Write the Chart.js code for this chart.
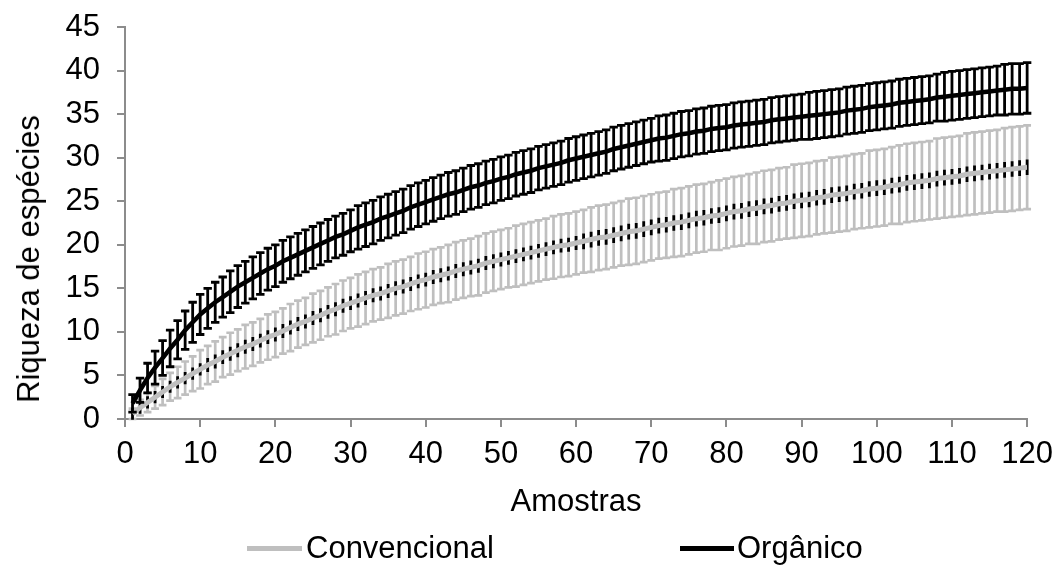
<!DOCTYPE html>
<html>
<head>
<meta charset="utf-8">
<script src="https://cdn.jsdelivr.net/npm/chart.js@4.4.1/dist/chart.umd.min.js"></script>
<style>
  html, body { margin: 0; padding: 0; background: #fff; }
  #wrap { position: relative; width: 1062px; height: 565px; overflow: hidden; }
  canvas { position: absolute; left: 0; top: 0; }
  .lg-line { position: absolute; height: 5px; }
  .lg-text { position: absolute; font-family: 'Liberation Sans', Arial, sans-serif; font-size: 31px; line-height: 36px; color: #000; white-space: nowrap; }
  #ytitle { position: absolute; left: 29px; top: 259px; transform: translate(-50%, -50%) rotate(-90deg); }
</style>
</head>
<body>
<div id="wrap">
  <canvas id="c" width="1062" height="565"></canvas>
  <div id="ytitle" class="lg-text"></div>
  <div class="lg-line" style="left:247px; top:546px; width:55px; background:#bfbfbf;"></div>
  <div class="lg-text" style="left:306px; top:530px;">Convencional</div>
  <div class="lg-line" style="left:680px; top:546px; width:54px; background:#000;"></div>
  <div class="lg-text" style="left:737px; top:530px;">Orgânico</div>
</div>
<script>
// ---- DATA ----
const samples = [1,2,3,4,5,6,7,8,9,10,11,12,13,14,15,16,17,18,19,20,
  21,22,23,24,25,26,27,28,29,30,31,32,33,34,35,36,37,38,39,40,
  41,42,43,44,45,46,47,48,49,50,51,52,53,54,55,56,57,58,59,60,
  61,62,63,64,65,66,67,68,69,70,71,72,73,74,75,76,77,78,79,80,
  81,82,83,84,85,86,87,88,89,90,91,92,93,94,95,96,97,98,99,100,
  101,102,103,104,105,106,107,108,109,110,111,112,113,114,115,116,117,118,119,120];

const seriesNames = ['Convencional', 'Orgânico'];

const convMean = [0.6,1.3,1.9,2.5,3.1,3.7,4.2,4.7,5.2,5.7,
  6.2,6.6,7.1,7.5,7.9,8.3,8.6,9.0,9.4,9.7,
  10.1,10.5,10.9,11.2,11.6,11.9,12.3,12.6,13.0,13.3,
  13.6,13.9,14.2,14.4,14.7,15.0,15.2,15.5,15.8,16.0,
  16.3,16.5,16.7,17.0,17.2,17.4,17.6,17.9,18.1,18.3,
  18.5,18.7,18.9,19.1,19.3,19.5,19.7,19.9,20.0,20.2,
  20.4,20.6,20.8,20.9,21.1,21.3,21.5,21.6,21.8,22.0,
  22.2,22.3,22.5,22.6,22.8,23.0,23.1,23.3,23.4,23.6,
  23.8,23.9,24.1,24.2,24.4,24.5,24.7,24.8,25.0,25.1,
  25.2,25.4,25.5,25.7,25.8,25.9,26.1,26.2,26.4,26.5,
  26.6,26.8,26.9,27.1,27.2,27.3,27.4,27.6,27.7,27.8,
  27.9,28.1,28.2,28.3,28.4,28.5,28.6,28.7,28.8,28.9];

const convErr = [0.6,0.9,1.1,1.3,1.5,1.6,1.8,1.9,2.0,2.2,
  2.2,2.3,2.3,2.4,2.4,2.5,2.5,2.5,2.6,2.6,
  2.6,2.7,2.7,2.7,2.8,2.8,2.8,2.9,2.9,2.9,
  3.0,3.0,3.0,3.0,3.1,3.1,3.1,3.1,3.2,3.2,
  3.2,3.2,3.3,3.3,3.3,3.3,3.4,3.4,3.4,3.4,
  3.4,3.5,3.5,3.5,3.5,3.5,3.6,3.6,3.6,3.6,
  3.6,3.7,3.7,3.7,3.7,3.7,3.8,3.8,3.8,3.8,
  3.8,3.8,3.9,3.9,3.9,3.9,3.9,3.9,4.0,4.0,
  4.0,4.0,4.0,4.1,4.1,4.1,4.1,4.1,4.2,4.2,
  4.2,4.2,4.2,4.3,4.3,4.3,4.3,4.3,4.4,4.4,
  4.4,4.4,4.5,4.5,4.5,4.5,4.5,4.6,4.6,4.6,
  4.6,4.7,4.7,4.7,4.7,4.7,4.8,4.8,4.8,4.8];

const convInnerErr = [0.7,0.7,0.7,0.7,0.7,0.7,0.7,0.7,0.7,0.7,
  0.8,0.8,0.8,0.8,0.8,0.8,0.8,0.8,0.8,0.8,
  0.8,0.8,0.8,0.8,0.8,0.8,0.8,0.8,0.8,0.8,
  0.8,0.8,0.8,0.8,0.8,0.8,0.8,0.8,0.8,0.8,
  0.8,0.8,0.8,0.8,0.8,0.8,0.8,0.8,0.8,0.8,
  0.8,0.8,0.8,0.8,0.8,0.8,0.8,0.8,0.8,0.8,
  0.9,0.9,0.9,0.9,0.9,0.9,0.9,0.9,0.9,0.9,
  0.9,0.9,0.9,0.9,0.9,0.9,0.9,0.9,0.9,0.9,
  0.9,0.9,0.9,0.9,0.9,0.9,0.9,0.9,0.9,0.9,
  0.9,0.9,0.9,0.9,0.9,0.9,0.9,0.9,0.9,0.9,
  0.9,0.9,0.9,0.9,0.9,0.9,0.9,0.9,0.9,0.9,
  0.9,0.9,0.9,0.9,0.9,0.9,0.9,0.9,0.9,0.9];

const orgMean = [1.8,3.3,4.7,5.9,7.0,8.1,9.1,10.2,11.1,12.0,
  12.7,13.4,14.0,14.6,15.2,15.7,16.2,16.7,17.2,17.6,
  18.1,18.5,18.9,19.3,19.7,20.1,20.5,20.9,21.2,21.6,
  22.0,22.3,22.6,23.0,23.3,23.6,23.9,24.3,24.6,24.9,
  25.2,25.5,25.8,26.0,26.3,26.6,26.8,27.1,27.3,27.6,
  27.8,28.1,28.3,28.5,28.8,29.0,29.2,29.4,29.7,29.9,
  30.1,30.3,30.5,30.7,31.0,31.2,31.4,31.6,31.8,32.0,
  32.2,32.3,32.5,32.7,32.8,33.0,33.1,33.3,33.4,33.5,
  33.7,33.8,33.9,34.0,34.1,34.3,34.4,34.5,34.6,34.7,
  34.8,34.9,35.0,35.1,35.2,35.4,35.5,35.6,35.8,35.9,
  36.0,36.1,36.3,36.4,36.5,36.6,36.7,36.9,37.0,37.1,
  37.2,37.3,37.4,37.5,37.6,37.7,37.8,37.9,37.9,38.0];

const orgErr = [1.0,1.4,1.7,1.9,2.0,2.1,2.2,2.2,2.3,2.3,
  2.3,2.3,2.3,2.4,2.4,2.4,2.4,2.4,2.4,2.4,
  2.4,2.4,2.4,2.4,2.4,2.4,2.4,2.4,2.4,2.4,
  2.5,2.5,2.5,2.5,2.5,2.5,2.5,2.5,2.5,2.5,
  2.5,2.5,2.5,2.5,2.5,2.5,2.5,2.5,2.5,2.5,
  2.5,2.5,2.5,2.5,2.5,2.5,2.5,2.5,2.5,2.5,
  2.5,2.5,2.5,2.5,2.5,2.5,2.5,2.5,2.5,2.5,
  2.6,2.6,2.6,2.6,2.6,2.6,2.6,2.6,2.6,2.6,
  2.6,2.6,2.6,2.6,2.6,2.6,2.6,2.6,2.6,2.6,
  2.7,2.7,2.7,2.7,2.7,2.7,2.7,2.7,2.7,2.7,
  2.7,2.7,2.7,2.7,2.7,2.7,2.7,2.7,2.8,2.8,
  2.8,2.8,2.8,2.8,2.8,2.8,2.9,2.9,2.9,2.9];

const xTicks = [0,10,20,30,40,50,60,70,80,90,100,110,120];
const yTicks = [0,5,10,15,20,25,30,35,40,45];
const xTitle = 'Amostras';
const yTitle = 'Riqueza de espécies';

document.getElementById('ytitle').textContent = yTitle;

// ---- CHART ----
const FONT = "'Liberation Sans', Arial, sans-serif";
const GRAY = '#bfbfbf';
const AXIS = '#8c8c8c';

function pts(means) { return samples.map((s, i) => ({ x: s, y: means[i] })); }

const errorBarPlugin = {
  id: 'errorBars',
  beforeDatasetDraw(chart, args) {
    const ds = chart.data.datasets[args.index];
    if (!ds.errSpecs) return;
    const xs = chart.scales.x, ys = chart.scales.y, ctx = chart.ctx;
    ctx.save();
    ds.errSpecs.forEach(spec => {
      ctx.strokeStyle = spec.color;
      ctx.lineWidth = spec.lineWidth;
      ctx.lineCap = 'butt';
      ctx.beginPath();
      samples.forEach((s, i) => {
        const m = spec.mean[i], e = spec.err[i];
        const px = xs.getPixelForValue(s);
        const top = ys.getPixelForValue(m + e);
        const bot = ys.getPixelForValue(m - e);
        ctx.moveTo(px, top);
        ctx.lineTo(px, bot);
        if (spec.cap > 0) {
          ctx.moveTo(px - spec.cap, top);
          ctx.lineTo(px + spec.cap, top);
          ctx.moveTo(px - spec.cap, bot);
          ctx.lineTo(px + spec.cap, bot);
        }
      });
      ctx.stroke();
    });
    ctx.restore();
  }
};

const tickFont = { family: FONT, size: 31 };

new Chart(document.getElementById('c'), {
  type: 'line',
  data: {
    datasets: [
      {
        label: seriesNames[0],
        data: pts(convMean),
        borderColor: GRAY,
        borderWidth: 5,
        pointRadius: 0,
        tension: 0,
        order: 2,
        errSpecs: [
          { mean: convMean, err: convErr, color: GRAY, lineWidth: 2.7, cap: 3.9 },
          { mean: convMean, err: convInnerErr, color: '#000', lineWidth: 2.8, cap: 0 }
        ]
      },
      {
        label: seriesNames[1],
        data: pts(orgMean),
        borderColor: '#000',
        borderWidth: 4.5,
        pointRadius: 0,
        tension: 0,
        order: 1,
        errSpecs: [
          { mean: orgMean, err: orgErr, color: '#000', lineWidth: 2.8, cap: 4.2 }
        ]
      }
    ]
  },
  options: {
    responsive: false,
    animation: false,
    layout: { padding: { top: 27, right: 25, bottom: 40, left: 0 } },
    plugins: { legend: { display: false }, tooltip: { enabled: false } },
    scales: {
      x: {
        type: 'linear',
        min: 0, max: 120,
        afterBuildTicks: s => { s.ticks = xTicks.map(v => ({ value: v })); },
        afterFit: s => { s.height = 106; },
        ticks: { font: tickFont, color: '#000', padding: 9, maxRotation: 0, autoSkip: false },
        grid: { drawOnChartArea: false, drawTicks: true, tickLength: 8, color: AXIS, lineWidth: 2 },
        border: { display: true, color: AXIS, width: 2 },
        title: { display: true, text: xTitle, font: { family: FONT, size: 31 }, color: '#000', padding: { top: 0, bottom: 4 } }
      },
      y: {
        type: 'linear',
        min: 0, max: 45,
        afterBuildTicks: s => { s.ticks = yTicks.map(v => ({ value: v })); },
        afterFit: s => { s.width = 125; s.paddingTop = 0; s.paddingBottom = 0; },
        ticks: { font: tickFont, color: '#000', padding: 17, autoSkip: false },
        grid: { drawOnChartArea: false, drawTicks: true, tickLength: 8, color: AXIS, lineWidth: 2 },
        border: { display: true, color: AXIS, width: 2 },
        title: { display: false }
      }
    }
  },
  plugins: [errorBarPlugin]
});
</script>
</body>
</html>
